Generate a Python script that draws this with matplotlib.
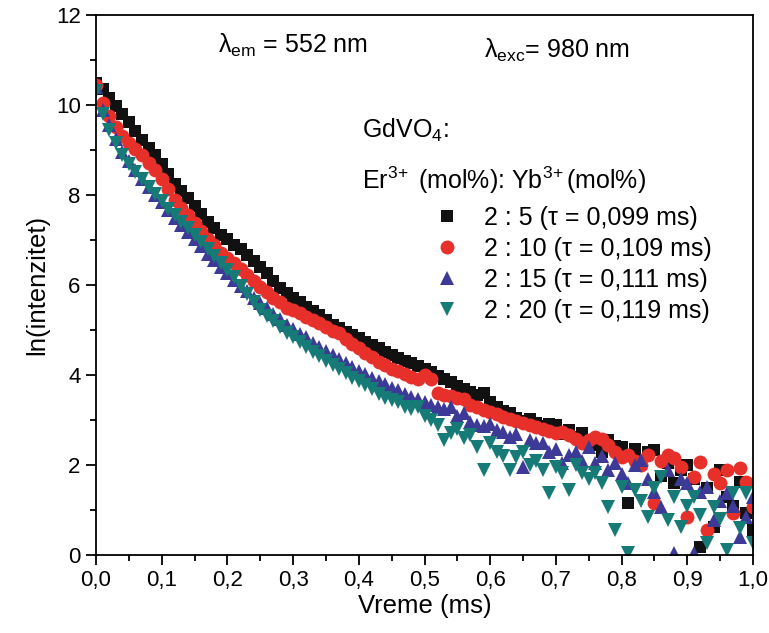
import numpy as np
import matplotlib
matplotlib.use("Agg")
import matplotlib.pyplot as plt

plt.rcParams['font.family'] = ['Liberation Sans', 'DejaVu Sans']
plt.rcParams['mathtext.fontset'] = 'custom'
plt.rcParams['mathtext.rm'] = 'Liberation Sans'
plt.rcParams['mathtext.it'] = 'Liberation Sans:italic'
plt.rcParams['mathtext.bf'] = 'Liberation Sans:bold'

# time grid (ms)
time_ms = np.round(np.arange(0, 101) * 0.01, 2)

ln_2_5 = [10.50, 10.35, 10.15, 9.98, 9.80, 9.62, 9.42, 9.22, 9.05, 8.88,
          8.70, 8.46, 8.25, 8.08, 7.93, 7.76, 7.57, 7.40, 7.26, 7.12,
          7.02, 6.90, 6.80, 6.66, 6.54, 6.40, 6.26, 6.08, 5.94, 5.82,
          5.72, 5.62, 5.52, 5.42, 5.33, 5.22, 5.12, 5.04, 4.96, 4.88,
          4.82, 4.74, 4.66, 4.60, 4.52, 4.44, 4.38, 4.32, 4.26, 4.20,
          4.14, 4.06, 3.98, 3.92, 3.84, 3.76, 3.68, 3.62, 3.55, 3.60,
          3.40, 3.28, 3.20, 3.15, 3.05, 2.98, 3.02, 2.94, 2.86, 2.92,
          2.88, 2.70, 2.78, 2.62, 2.72, 2.50, 2.44, 2.30, 2.55, 2.42,
          2.40, 1.16, 2.36, 2.10, 2.30, 2.33, 1.75, 2.05, 1.60, 1.89,
          2.00, 1.70, 0.18, 1.50, 0.62, 1.89, 1.30, 1.10, 1.62, 0.93,
          0.55]

ln_2_10 = [10.45, 10.05, 9.75, 9.52, 9.30, 9.15, 9.02, 8.88, 8.72, 8.56,
           8.36, 8.14, 7.90, 7.72, 7.55, 7.38, 7.20, 7.02, 6.88, 6.72,
           6.60, 6.50, 6.36, 6.22, 6.10, 5.96, 5.84, 5.72, 5.62, 5.50,
           5.44, 5.38, 5.30, 5.22, 5.16, 5.06, 4.98, 4.93, 4.80, 4.70,
           4.60, 4.50, 4.40, 4.30, 4.22, 4.14, 4.08, 4.02, 3.96, 3.92,
           4.00, 3.92, 3.60, 3.56, 3.54, 3.50, 3.46, 3.34, 3.30, 3.22,
           3.18, 3.14, 3.06, 3.02, 2.98, 2.94, 2.90, 2.84, 2.80, 2.76,
           2.72, 2.74, 2.66, 2.58, 2.50, 2.55, 2.62, 2.58, 2.44, 2.30,
           2.18, 2.22, 2.10, 2.00, 2.22, 1.16, 2.10, 2.22, 2.16, 1.95,
           0.85, 1.73, 2.07, 0.56, 1.80, 1.60, 1.89, 0.93, 1.93, 1.62,
           1.07]

ln_2_15 = [10.40, 9.90, 9.55, 9.25, 8.95, 8.75, 8.55, 8.36, 8.18, 8.00,
           7.84, 7.66, 7.50, 7.34, 7.18, 7.02, 6.86, 6.70, 6.56, 6.40,
           6.26, 6.12, 5.98, 5.86, 5.72, 5.60, 5.48, 5.36, 5.24, 5.12,
           5.02, 4.92, 4.84, 4.72, 4.62, 4.54, 4.44, 4.36, 4.26, 4.18,
           4.10, 4.02, 3.94, 3.86, 3.80, 3.72, 3.66, 3.58, 3.52, 3.46,
           3.40, 3.34, 3.30, 3.24, 3.29, 3.08, 3.15, 2.96, 2.90, 2.86,
           2.92, 2.78, 2.74, 2.62, 2.70, 1.96, 2.56, 2.48, 2.49, 2.30,
           2.36, 2.04, 2.22, 2.30, 2.10, 2.40, 2.04, 2.20, 1.90, 2.04,
           1.80, 1.60, 2.00, 2.11, 1.70, 1.40, 1.07, 1.89, 0.04, 1.70,
           1.60, 0.04, 1.40, 1.51, 0.78, 1.20, 1.38, 1.10, 0.40, 0.84,
           1.30]

ln_2_20 = [10.30, 9.80, 9.45, 9.15, 8.90, 8.70, 8.52, 8.36, 8.18, 8.02,
           7.86, 7.70, 7.56, 7.40, 7.26, 7.12, 6.96, 6.80, 6.64, 6.48,
           6.34, 6.18, 5.98, 5.80, 5.62, 5.45, 5.32, 5.20, 5.06, 4.94,
           4.84, 4.74, 4.62, 4.52, 4.42, 4.32, 4.22, 4.14, 4.04, 3.94,
           3.86, 3.78, 3.68, 3.58, 3.50, 3.44, 3.40, 3.30, 3.24, 3.30,
           3.10, 3.00, 2.90, 2.56, 2.72, 2.80, 2.60, 2.66, 2.40, 1.89,
           2.50, 2.30, 2.20, 1.89, 2.18, 2.30, 2.00, 2.10, 1.90, 1.38,
           1.95, 1.82, 1.44, 2.00, 1.82, 1.70, 1.82, 1.60, 1.07, 0.56,
           1.51, 0.04, 1.44, 1.20, 0.84, 1.50, 1.73, 0.78, 1.30, 0.62,
           1.10, 1.29, 0.90, 0.27, 1.07, 0.80, 0.11, 1.38, 0.60, 1.38,
           0.27]

labels = ['2 : 5 (τ = 0,099 ms)', '2 : 10 (τ = 0,109 ms)',
          '2 : 15 (τ = 0,111 ms)', '2 : 20 (τ = 0,119 ms)']
series = [ln_2_5, ln_2_10, ln_2_15, ln_2_20]
colors = ['#111111', '#e8302a', '#3c3a96', '#167b76']
markers = ['s', 'o', '^', 'v']
msizes = [9, 10, 10, 10]

x_ticks = [0.0, 0.1, 0.2, 0.3, 0.4, 0.5, 0.6, 0.7, 0.8, 0.9, 1.0]
x_ticklabels = ['0,0', '0,1', '0,2', '0,3', '0,4', '0,5', '0,6', '0,7', '0,8', '0,9', '1,0']
y_ticks = [0, 2, 4, 6, 8, 10, 12]

fig = plt.figure(figsize=(7.69, 6.33), dpi=100)
ax = fig.add_axes([96/769, 1-555/633, 657/769, 540/633])

handles = []
for vals, c, m, ms, lab in zip(series, colors, markers, msizes, labels):
    h, = ax.plot(time_ms, vals, linestyle='none', marker=m, color=c,
                 markersize=ms, markeredgewidth=0, label=lab)
    handles.append(h)

ax.set_xlim(0, 1.0)
ax.set_ylim(0, 12)
ax.set_xticks(x_ticks)
ax.set_xticklabels(x_ticklabels)
ax.set_yticks(y_ticks)
ax.set_xticks(np.arange(0.05, 1.0, 0.1), minor=True)
ax.set_yticks(np.arange(1, 12, 2), minor=True)
ax.tick_params(which='major', direction='out', length=7, width=1.3, labelsize=16,
               top=False, right=False, pad=4)
ax.tick_params(which='minor', direction='out', length=4, width=1.3,
               top=False, right=False)
for s in ax.spines.values():
    s.set_linewidth(1.3)

ax.set_xlabel('Vreme (ms)', fontsize=18.5, labelpad=2)
ax.set_ylabel('ln(intenzitet)', fontsize=18.5, labelpad=5)

ax.text(0.186, 0.944, 'λ$_{\\rm em}$ = 552 nm', transform=ax.transAxes,
        fontsize=18, va='center', ha='left')
ax.text(0.590, 0.935, 'λ$_{\\rm exc}$= 980 nm', transform=ax.transAxes,
        fontsize=18, va='center', ha='left')
ax.text(0.405, 0.787, 'GdVO$_{\\rm 4}$:', transform=ax.transAxes,
        fontsize=18, va='center', ha='left')
ax.text(0.405, 0.694, 'Er$^{\\rm 3\\!+}$ (mol%): Yb$^{\\rm 3\\!+}$(mol%)',
        transform=ax.transAxes, fontsize=18, va='center', ha='left')

ax.legend(handles=handles, loc='upper left', bbox_to_anchor=(0.50, 0.665),
          frameon=False, fontsize=18, handlelength=1.0, handletextpad=1.0,
          labelspacing=0.28, borderaxespad=0, markerscale=1.0)

fig.savefig('out.png', dpi=100)
